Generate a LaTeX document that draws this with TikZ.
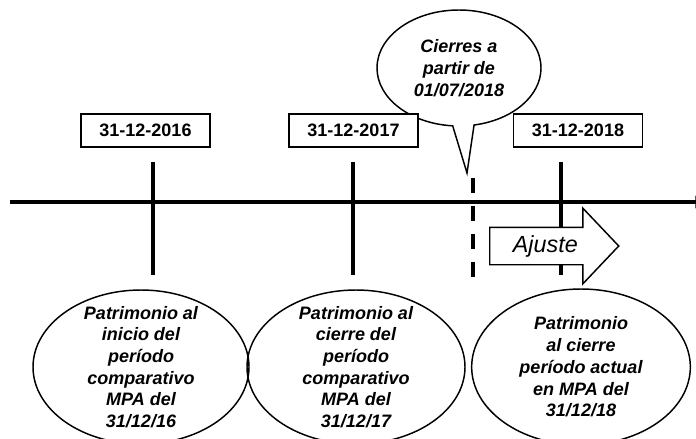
\documentclass[tikz,border=0pt]{standalone}
\usepackage{fontspec}
\setmainfont{Liberation Sans}
\usetikzlibrary{shapes.callouts,shapes.arrows,arrows.meta}

\tikzset{
  datebox/.style={draw, fill=white, line width=0.9pt, minimum width=96.75pt, minimum height=24.75pt, inner sep=0pt, font=\fontsize{13.5}{16}\selectfont\bfseries},
  patext/.style={align=center, inner sep=0pt, font=\fontsize{13.5}{16.3}\selectfont\bfseries\itshape},
  ovalline/.style={line width=1.1pt},
  timeline/.style={line width=2.8pt, -{Triangle[length=8pt,width=9pt]}},
  tickline/.style={line width=3.5pt},
  cutline/.style={line width=3.5pt, dash pattern=on 11.25pt off 9.75pt},
  adjarrow/.style={shape=single arrow, draw, fill=white, line width=1.1pt, single arrow head extend=14.25pt, single arrow tip angle=93, minimum height=96.75pt, text height=12.5pt, text depth=3.5pt, inner ysep=5.5pt, inner xsep=2pt, font=\fontsize{17.5}{20}\selectfont\itshape},
}

\begin{document}
\begin{tikzpicture}[x=0.75pt,y=-0.75pt]
\useasboundingbox (0,0) rectangle (696,439);
\clip (0,0) rectangle (696,439);

% time axis
\coordinate (tlstart) at (10,202);
\coordinate (tlend) at (706,202);
\draw[timeline] (tlstart) -- (tlend);

% year ticks
\coordinate (t1a) at (153,162); \coordinate (t1b) at (153,275);
\coordinate (t2a) at (353,162); \coordinate (t2b) at (353,275);
\coordinate (t3a) at (561,162); \coordinate (t3b) at (561,275);
\draw[tickline] (t1a) -- (t1b);
\draw[tickline] (t2a) -- (t2b);
\draw[tickline] (t3a) -- (t3b);

% change of method
\coordinate (cuta) at (473,178);
\coordinate (cutb) at (473,280);
\draw[cutline] (cuta) -- (cutb);

\coordinate (ctip) at (467,173);
\node[ellipse callout, draw, ovalline, patext, minimum width=123pt, minimum height=87pt, callout absolute pointer={(ctip)}] (cierres) at (459,68) {Cierres a\\partir de\\01/07/2018};

% dates
\node[datebox] (d2016) at (145.5,130.5) {31-12-2016};
\node[datebox] (d2017) at (353.5,130.5) {31-12-2017};
\node[datebox] (d2018) at (578,130.5) {31-12-2018};

\node[adjarrow, anchor=tail] (ajuste) at (489,246) {Ajuste};

% equity at each date
\node[patext] (pat1) at (141,367) {Patrimonio al\\inicio del\\período\\comparativo\\MPA del\\31/12/16};
\draw[ovalline] (pat1.center) ellipse [x radius=81pt, y radius=57.75pt];

\node[patext] (pat2) at (356,367) {Patrimonio al\\cierre del\\período\\comparativo\\MPA del\\31/12/17};
\draw[ovalline] (pat2.center) ellipse [x radius=81.75pt, y radius=57.75pt];

\node[patext] (pat3) at (581,367) {Patrimonio\\al cierre\\período actual\\en MPA del\\31/12/18};
\draw[ovalline] (pat3.center) ellipse [x radius=82pt, y radius=58.5pt];

\end{tikzpicture}
\end{document}
